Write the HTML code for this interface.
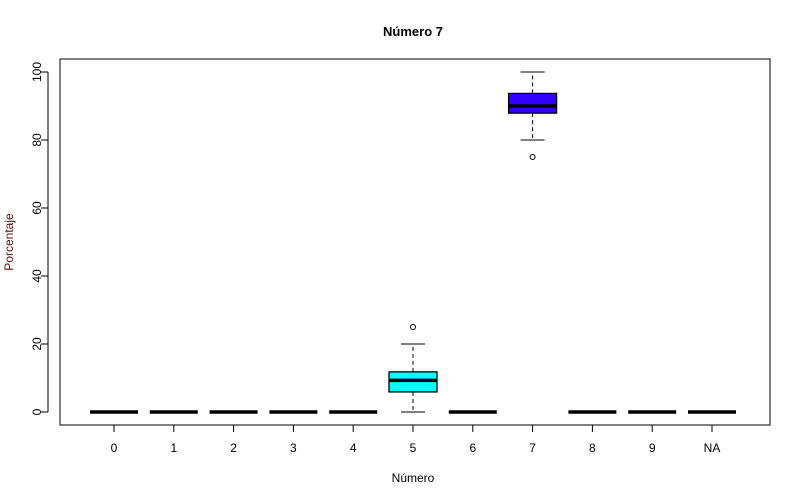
<!DOCTYPE html>
<html><head><meta charset="utf-8"><style>body{margin:0;background:#fff}svg{display:block;font-family:"Liberation Sans",Arial,sans-serif}</style></head>
<body>
<svg id="c" width="800" height="500"></svg>
<script>
const categories=["0","1","2","3","4","5","6","7","8","9","NA"];
const mins=[0,0,0,0,0,0,0,80,0,0,0];
const q1s=[0,0,0,0,0,5.9,0,87.9,0,0,0];
const medians=[0,0,0,0,0,9.3,0,90,0,0,0];
const q3s=[0,0,0,0,0,11.8,0,93.7,0,0,0];
const maxs=[0,0,0,0,0,20,0,100,0,0,0];
const outliers=[[],[],[],[],[],[25],[],[75],[],[],[]];
const fills=["#fff","#fff","#fff","#fff","#fff","#00ffff","#fff","#3300ff","#fff","#fff","#fff"];
const yTicks=[0,20,40,60,80,100];
const NS="http://www.w3.org/2000/svg",svg=document.getElementById('c');
const y=v=>412-v*3.4, x=i=>114+i*59.8;
function el(t,a,txt){const e=document.createElementNS(NS,t);for(const k in a)e.setAttribute(k,a[k]);if(txt!=null)e.textContent=txt;svg.appendChild(e);return e;}
let e;
e=el('rect',{x:60,y:59,width:710,height:366,fill:'none',stroke:'#000'});


e=el('text',{x:413,y:36,'text-anchor':'middle','font-size':13,'font-weight':'bold'},'Número 7');


e=el('text',{x:413,y:482,'text-anchor':'middle','font-size':12},'Número');


e=el('text',{x:0,y:0,'text-anchor':'middle','font-size':12,fill:'#5a1010',transform:'translate(13,242) rotate(-90)'},'Porcentaje');


e=el('line',{x1:48,x2:48,y1:y(0),y2:y(100),stroke:'#000'});


yTicks.forEach(t=>{
 e=el('line',{x1:41,x2:48,y1:y(t),y2:y(t),stroke:'#000'});
 
 
 e=el('text',{x:0,y:0,'text-anchor':'middle','font-size':12,transform:`translate(41,${y(t)}) rotate(-90)`},String(t));
 
 
});
e=el('line',{x1:x(0),x2:x(10),y1:425,y2:425,stroke:'#000'});


categories.forEach((c,i)=>{
 const cx=x(i);
 e=el('line',{x1:cx,x2:cx,y1:425,y2:432,stroke:'#000'});
 
 
 e=el('text',{x:cx,y:452,'text-anchor':'middle','font-size':12},c);
 
 
 const hw=24;
 if(maxs[i]>q3s[i]){
  e=el('line',{x1:cx,x2:cx,y1:y(q3s[i]),y2:y(maxs[i]),stroke:'#000','stroke-dasharray':'4,3'});
  
  
  e=el('line',{x1:cx-12,x2:cx+12,y1:y(maxs[i]),y2:y(maxs[i]),stroke:'#000'});
  
  
 }
 if(mins[i]<q1s[i]){
  e=el('line',{x1:cx,x2:cx,y1:y(q1s[i]),y2:y(mins[i]),stroke:'#000','stroke-dasharray':'4,3'});
  
  
  e=el('line',{x1:cx-12,x2:cx+12,y1:y(mins[i]),y2:y(mins[i]),stroke:'#000'});
  
  
 }
 e=el('rect',{x:cx-hw,y:y(q3s[i]),width:hw*2,height:Math.max(0,y(q1s[i])-y(q3s[i])),fill:fills[i],stroke:'#000','stroke-width':1.3});
 
 
 e=el('line',{x1:cx-hw,x2:cx+hw,y1:y(medians[i]),y2:y(medians[i]),stroke:'#000','stroke-width':3.5});
 
 
 outliers[i].forEach(o=>{
  e=el('circle',{cx:cx,cy:y(o),r:2.5,fill:'none',stroke:'#000'});
  
  
 });
});
</script>
</body></html>
